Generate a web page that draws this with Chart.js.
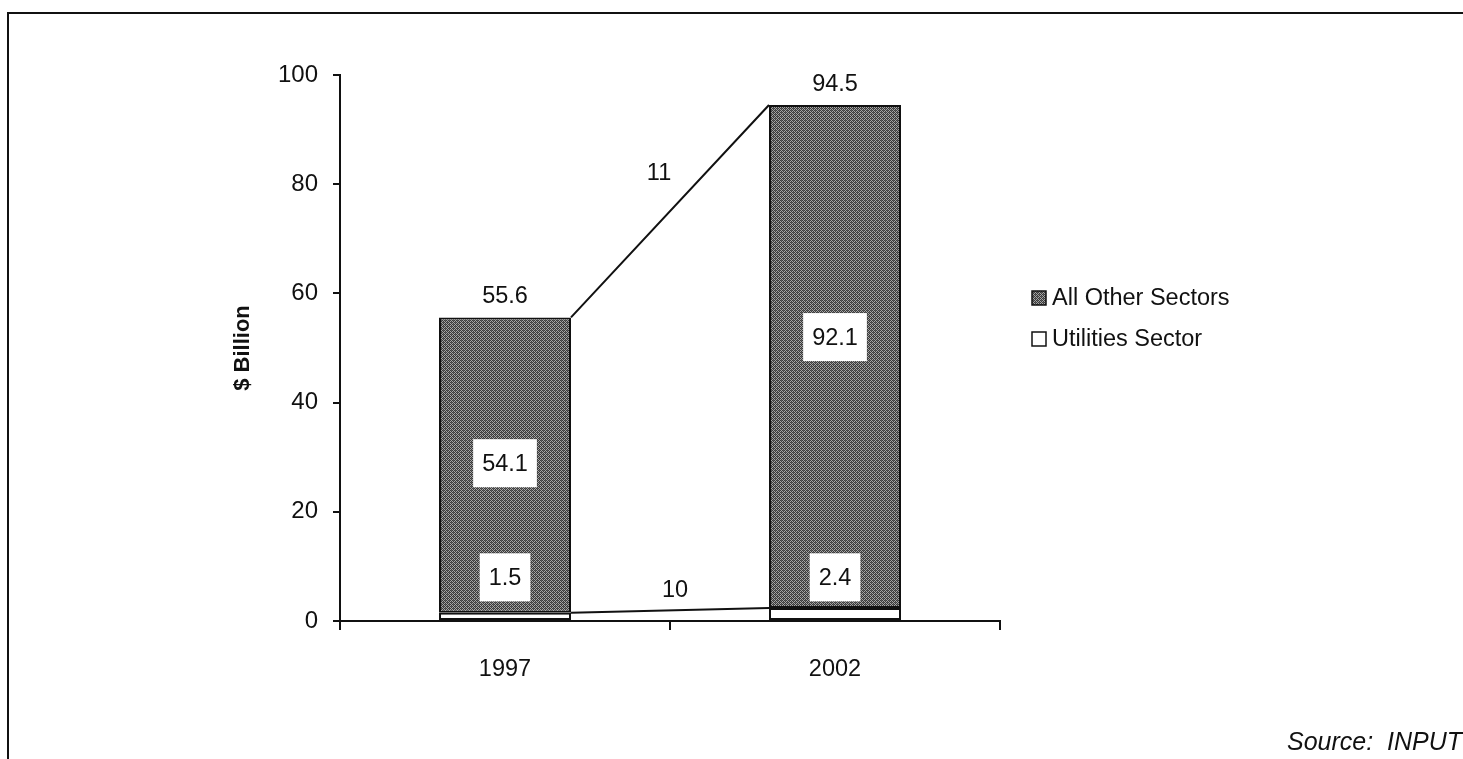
<!DOCTYPE html>
<html>
<head>
<meta charset="utf-8">
<script src="https://cdn.jsdelivr.net/npm/chart.js@4.4.1/dist/chart.umd.min.js"></script>
<style>
  html, body { margin: 0; padding: 0; background: #fff; }
  #wrap { width: 1463px; height: 759px; position: relative; }
</style>
</head>
<body>
<div id="wrap"><canvas id="c" width="1463" height="759"></canvas></div>
<script>
// Revenue by sector, $ billion
const years = ['1997', '2002'];
const utilitiesSector = [1.5, 2.4];
const allOtherSectors = [54.1, 92.1];
// Compound annual growth (%) between the two years: total, utilities
const growthTotal = '11';
const growthUtilities = '10';
// Value levels where the boxed segment labels sit
const utilitiesLabelAt = [8, 8];
const otherLabelAt = [28.9, 52.0];

const FONT = '"Liberation Sans", Arial, Helvetica, sans-serif';

// Dark gray cross-hatch fill
function makeHatch() {
  const p = document.createElement('canvas');
  p.width = 4; p.height = 4;
  const g = p.getContext('2d');
  g.fillStyle = '#a6a6a6';
  g.fillRect(0, 0, 4, 4);
  g.fillStyle = '#3a3a3a';
  for (let y = 0; y < 4; y++) {
    for (let x = 0; x < 4; x++) {
      if ((x + y) % 2 === 0) g.fillRect(x, y, 1, 1);
    }
  }
  g.fillStyle = '#5e5e5e';
  g.fillRect(1, 0, 1, 1);
  g.fillRect(3, 2, 1, 1);
  return document.getElementById('c').getContext('2d').createPattern(p, 'repeat');
}
const hatch = makeHatch();

const framePlugin = {
  id: 'frame',
  beforeDraw(chart) {
    const ctx = chart.ctx;
    ctx.save();
    ctx.fillStyle = '#fff';
    ctx.fillRect(0, 0, chart.width, chart.height);
    ctx.strokeStyle = '#111';
    ctx.lineWidth = 2;
    ctx.strokeRect(8, 13, chart.width + 10, chart.height + 10);
    ctx.restore();
  }
};

const annotatePlugin = {
  id: 'annotate',
  afterDatasetsDraw(chart) {
    const ctx = chart.ctx;
    const y = chart.scales.y;
    const utilBars = chart.getDatasetMeta(0).data;
    const otherBars = chart.getDatasetMeta(1).data;
    ctx.save();
    ctx.font = '23.5px ' + FONT;
    ctx.fillStyle = '#111';
    ctx.textAlign = 'center';
    ctx.textBaseline = 'middle';

    // growth lines between bar tops
    const w0 = otherBars[0].width / 2, w1 = otherBars[1].width / 2;
    const tot0 = utilitiesSector[0] + allOtherSectors[0];
    const tot1 = utilitiesSector[1] + allOtherSectors[1];
    const a = { x: otherBars[0].x + w0, y: y.getPixelForValue(tot0) };
    const b = { x: otherBars[1].x - w1, y: y.getPixelForValue(tot1) };
    const c = { x: utilBars[0].x + w0, y: y.getPixelForValue(utilitiesSector[0]) };
    const d = { x: utilBars[1].x - w1, y: y.getPixelForValue(utilitiesSector[1]) };
    ctx.strokeStyle = '#111';
    ctx.lineWidth = 2;
    ctx.beginPath();
    ctx.moveTo(a.x, a.y); ctx.lineTo(b.x, b.y);
    ctx.moveTo(c.x, c.y); ctx.lineTo(d.x, d.y);
    ctx.stroke();
    ctx.fillText(growthTotal, (a.x + b.x) / 2 - 11, (a.y + b.y) / 2 - 38);
    ctx.fillText(growthUtilities, (c.x + d.x) / 2 + 5, (c.y + d.y) / 2 - 20);

    // totals above bars
    [tot0, tot1].forEach((t, i) => {
      ctx.fillText(t.toFixed(1), otherBars[i].x, y.getPixelForValue(t) - 21);
    });

    // boxed segment values
    function boxed(text, x, py) {
      const tw = ctx.measureText(text).width;
      ctx.fillStyle = '#fff';
      ctx.fillRect(x - tw / 2 - 9, py - 24, tw + 18, 48);
      ctx.fillStyle = '#111';
      ctx.fillText(text, x, py + 1);
    }
    for (let i = 0; i < years.length; i++) {
      boxed(allOtherSectors[i].toFixed(1), otherBars[i].x, y.getPixelForValue(otherLabelAt[i]));
      boxed(utilitiesSector[i].toFixed(1), utilBars[i].x, y.getPixelForValue(utilitiesLabelAt[i]));
    }

    // legend
    const items = [chart.data.datasets[1], chart.data.datasets[0]];
    const lx = 1032, ly = [298, 339];
    ctx.textAlign = 'left';
    items.forEach((ds, i) => {
      ctx.fillStyle = ds.backgroundColor;
      ctx.fillRect(lx, ly[i] - 7, 14, 14);
      ctx.strokeStyle = '#111';
      ctx.lineWidth = 1.5;
      ctx.strokeRect(lx, ly[i] - 7, 14, 14);
      ctx.fillStyle = '#111';
      ctx.fillText(ds.label, lx + 20, ly[i] + 1);
    });

    // source note
    ctx.font = 'italic 25px ' + FONT;
    ctx.textAlign = 'right';
    ctx.fillText('Source:  INPUT', 1462, 743);
    ctx.restore();
  }
};

new Chart(document.getElementById('c'), {
  type: 'bar',
  data: {
    labels: years,
    datasets: [
      {
        label: 'Utilities Sector',
        data: utilitiesSector,
        backgroundColor: '#ffffff',
        borderColor: '#111',
        borderWidth: 2,
        borderSkipped: false
      },
      {
        label: 'All Other Sectors',
        data: allOtherSectors,
        backgroundColor: hatch,
        borderColor: '#111',
        borderWidth: 2,
        borderSkipped: false
      }
    ]
  },
  options: {
    responsive: false,
    animation: false,
    devicePixelRatio: 1,
    layout: { padding: { left: 230, right: 463, top: 75, bottom: 0 } },
    datasets: { bar: { barPercentage: 0.4, categoryPercentage: 1 } },
    plugins: {
      legend: { display: false },
      tooltip: { enabled: false }
    },
    scales: {
      x: {
        stacked: true,
        afterFit(s) { s.height = 138; },
        border: { display: true, color: '#111', width: 2 },
        grid: { display: true, drawOnChartArea: false, drawTicks: true, tickLength: 9, offset: true, color: '#111', lineWidth: 2 },
        ticks: { color: '#111', font: { family: FONT, size: 23.5 }, padding: 25 }
      },
      y: {
        stacked: true,
        min: 0,
        max: 100,
        afterFit(s) { s.width = 110; },
        border: { display: true, color: '#111', width: 2 },
        grid: { display: true, drawOnChartArea: false, drawTicks: true, tickLength: 7, color: '#111', lineWidth: 2 },
        ticks: { stepSize: 20, color: '#111', font: { family: FONT, size: 24 }, padding: 15 },
        title: { display: true, text: '$ Billion', color: '#111', font: { family: FONT, size: 22, weight: 'bold' }, padding: 0 }
      }
    }
  },
  plugins: [framePlugin, annotatePlugin]
});
</script>
</body>
</html>
